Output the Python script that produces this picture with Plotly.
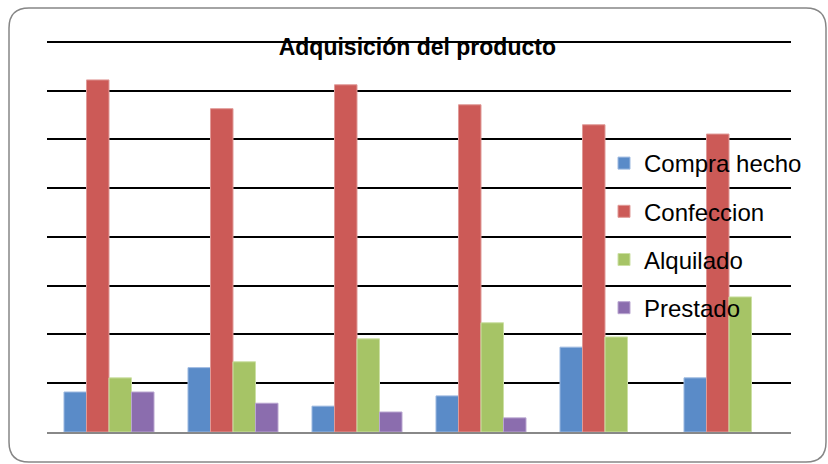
import plotly.graph_objects as go

categories = ["1", "2", "3", "4", "5", "6"]
compra_hecho = [8.2, 13.2, 5.3, 7.4, 17.4, 11.1]
confeccion = [72.2, 66.3, 71.2, 67.1, 63.0, 61.1]
alquilado = [11.1, 14.4, 19.1, 22.4, 19.5, 27.7]
prestado = [8.2, 5.9, 4.1, 2.9, None, None]

series_names = ["Compra hecho", "Confeccion", "Alquilado", "Prestado"]
series_values = [compra_hecho, confeccion, alquilado, prestado]
colors = ["#5A8BC8", "#CC5A57", "#A6C466", "#8B6DAE"]
edge = ["#9DB9E0", "#E09A98", "#CCE0A4", "#B9A6D0"]

W, H = 828, 464
L, R, T, B = 47, 37, 37, 32
pw, ph = W - L - R, H - T - B

def px(x):
    return (x - L) / pw

def py(y):
    return (H - B - y) / ph

fig = go.Figure()
for i, (name, vals) in enumerate(zip(series_names, series_values)):
    fig.add_trace(go.Bar(
        x=categories, y=vals, name=name, legendgroup=name,
        marker=dict(color=colors[i], line=dict(color=edge[i], width=1)),
    ))

# rounded border
x0, x1, y0, y1, r = 9, 826, 8, 462, 20
path = (f"M {px(x0+r)},{py(y0)} L {px(x1-r)},{py(y0)} "
        f"Q {px(x1)},{py(y0)} {px(x1)},{py(y0+r)} "
        f"L {px(x1)},{py(y1-r)} Q {px(x1)},{py(y1)} {px(x1-r)},{py(y1)} "
        f"L {px(x0+r)},{py(y1)} Q {px(x0)},{py(y1)} {px(x0)},{py(y1-r)} "
        f"L {px(x0)},{py(y0+r)} Q {px(x0)},{py(y0)} {px(x0+r)},{py(y0)} Z")

fig.update_layout(
    width=W, height=H,
    margin=dict(l=L, r=R, t=T, b=B),
    paper_bgcolor="white", plot_bgcolor="rgba(0,0,0,0)",
    bargap=0.274, bargroupgap=0,
    font=dict(family="Liberation Sans, Arial, sans-serif", color="black"),
    title=dict(text="<b>Adquisición del producto</b>", x=px(422), xanchor="center",
               y=1 - 47 / H, yanchor="middle", font=dict(size=23, color="black")),
    xaxis=dict(showticklabels=False, showgrid=False, showline=True,
               linecolor="#888888", linewidth=2, ticks=""),
    yaxis=dict(range=[0, 81], tickvals=[10, 20, 30, 40, 50, 60, 70, 80],
               showticklabels=False, showgrid=True,
               gridcolor="black", gridwidth=2, zeroline=False, ticks=""),
    legend=dict(x=px(604), xanchor="left", y=py(141), yanchor="top",
                bgcolor="rgba(0,0,0,0)", font=dict(size=24), tracegroupgap=14,
                traceorder="grouped"),
    shapes=[dict(type="path", path=path, xref="paper", yref="paper",
                 line=dict(color="#868686", width=1.5), layer="below")],
)

fig.write_html("out.html")
